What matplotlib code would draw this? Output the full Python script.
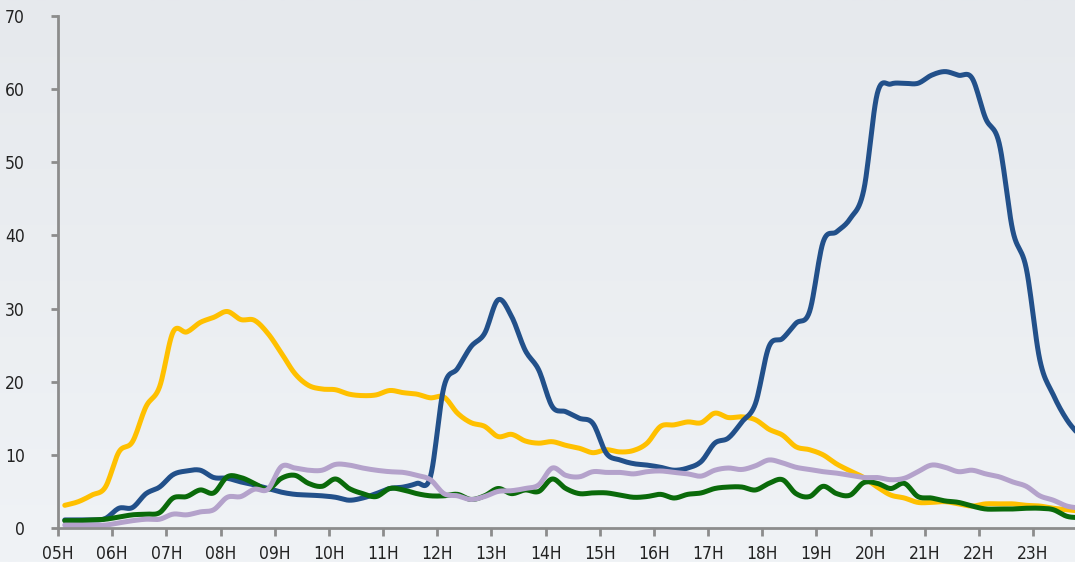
import numpy as np
import matplotlib
matplotlib.use("Agg")
import matplotlib.pyplot as plt
from matplotlib import font_manager

# quarter-hour slots from 05:00 to 23:45
hour_labels = ["05H", "06H", "07H", "08H", "09H", "10H", "11H", "12H", "13H", "14H",
               "15H", "16H", "17H", "18H", "19H", "20H", "21H", "22H", "23H"]

yellow = [3.1, 3.6, 4.5, 5.6, 10.4, 11.8, 16.6, 19.3, 26.8, 26.8,
          28.1, 28.8, 29.6, 28.5, 28.4, 26.6, 23.9, 21.1, 19.5, 19.0,
          18.9, 18.3, 18.1, 18.2, 18.8, 18.5, 18.3, 17.8, 17.9, 15.7,
          14.4, 13.9, 12.5, 12.8, 11.9, 11.6, 11.8, 11.3, 10.9, 10.3,
          10.7, 10.4, 10.6, 11.6, 13.9, 14.1, 14.5, 14.4, 15.7, 15.1,
          15.2, 14.8, 13.5, 12.7, 11.1, 10.7, 10.0, 8.75, 7.8, 6.9,
          5.6, 4.5, 4.1, 3.5, 3.5, 3.6, 3.3, 3.0, 3.3, 3.3,
          3.3, 3.1, 3.0, 2.7, 2.5, 2.3]

blue = [1.1, 1.1, 1.1, 1.3, 2.7, 2.8, 4.7, 5.6, 7.3, 7.8,
        7.9, 6.9, 6.8, 6.3, 5.9, 5.4, 4.9, 4.6, 4.5, 4.4,
        4.2, 3.8, 4.1, 4.7, 5.4, 5.6, 6.1, 7.0, 19.3, 21.8,
        24.8, 26.6, 31.2, 28.9, 24.3, 21.6, 16.6, 15.9, 15.0, 14.3,
        10.2, 9.3, 8.8, 8.6, 8.3, 7.9, 8.2, 9.1, 11.6, 12.3,
        14.5, 17.0, 24.8, 25.9, 28.0, 29.6, 39.1, 40.5, 42.3, 46.2,
        59.4, 60.7, 60.8, 60.8, 61.9, 62.4, 61.9, 61.5, 56.0, 52.6,
        40.7, 35.5, 23.0, 18.2, 14.8, 12.5]

green = [1.0, 1.0, 1.1, 1.2, 1.5, 1.8, 1.9, 2.1, 4.1, 4.3,
         5.2, 4.8, 7.0, 6.9, 6.1, 5.3, 6.8, 7.2, 6.1, 5.7,
         6.7, 5.4, 4.7, 4.3, 5.4, 5.2, 4.7, 4.4, 4.4, 4.6,
         3.9, 4.4, 5.4, 4.7, 5.2, 5.0, 6.7, 5.4, 4.7, 4.8,
         4.8, 4.5, 4.2, 4.3, 4.6, 4.1, 4.6, 4.8, 5.4, 5.6,
         5.6, 5.2, 6.1, 6.6, 4.7, 4.3, 5.7, 4.7, 4.5, 6.2,
         6.1, 5.4, 6.1, 4.3, 4.1, 3.7, 3.5, 3.0, 2.6, 2.6,
         2.6, 2.7, 2.7, 2.5, 1.6, 1.4]

lavender = [0.4, 0.4, 0.4, 0.4, 0.7, 1.0, 1.2, 1.2, 1.9, 1.8,
            2.2, 2.5, 4.2, 4.3, 5.3, 5.3, 8.4, 8.2, 7.9, 7.9,
            8.7, 8.6, 8.2, 7.9, 7.7, 7.6, 7.2, 6.6, 4.7, 4.4,
            3.9, 4.3, 5.0, 5.1, 5.4, 5.9, 8.2, 7.2, 7.0, 7.7,
            7.6, 7.6, 7.4, 7.7, 7.8, 7.6, 7.4, 7.1, 7.9, 8.2,
            8.0, 8.5, 9.3, 8.9, 8.3, 8.0, 7.7, 7.5, 7.2, 6.9,
            6.9, 6.6, 6.8, 7.7, 8.6, 8.3, 7.7, 7.9, 7.4, 7.0,
            6.3, 5.7, 4.4, 3.8, 3.0, 2.7]


def smooth(x, y, steps=12):
    # Catmull-Rom curve through the points, like a "smoothed line" in a spreadsheet
    x = np.asarray(x, float)
    y = np.asarray(y, float)
    t = np.linspace(0, 1, steps, endpoint=False)[:, None]
    res = []
    for p in (x, y):
        p = np.concatenate([[2 * p[0] - p[1]], p, [2 * p[-1] - p[-2]]])
        p0, p1, p2, p3 = p[:-3], p[1:-2], p[2:-1], p[3:]
        seg = 0.5 * ((2 * p1) + (-p0 + p2) * t + (2 * p0 - 5 * p1 + 4 * p2 - p3) * t ** 2
                     + (-p0 + 3 * p1 - 3 * p2 + p3) * t ** 3)
        res.append(np.concatenate([seg.T.ravel(), [p[-2]]]))
    return res


x = np.arange(len(blue)) + 0.5

# narrow face if there is one
names = {f.name for f in font_manager.fontManager.ttflist}
font = [n for n in ["Liberation Sans Narrow", "DejaVu Sans Condensed"] if n in names] + ["DejaVu Sans"]
stretch = "normal" if font[0] != "DejaVu Sans" else "condensed"

fig = plt.figure(figsize=(10.75, 5.62), dpi=100)

# light grey gradient behind everything
bg = fig.add_axes([0, 0, 1, 1], zorder=-10)
grad = np.linspace(0, 1, 256)[:, None]
bg.imshow(grad, aspect="auto", extent=[0, 1, 0, 1],
          cmap=matplotlib.colors.LinearSegmentedColormap.from_list("bg", ["#e6e9ed", "#f0f3f6"]))
bg.axis("off")

ax = fig.add_axes([58 / 1075, 34 / 562, 1 - 58 / 1075, 512 / 562])
ax.patch.set_alpha(0)

series = [(yellow, "#ffc000"), (blue, "#22508a"), (green, "#0a6a0a"), (lavender, "#b4a2cb")]
for vals, col in series:
    sx, sy = smooth(x, vals)
    ax.plot(sx, sy, color=col, lw=3.6, solid_capstyle="round", solid_joinstyle="round")

ax.set_xlim(0, 75.1)
ax.set_ylim(0, 70)
ax.set_xticks(np.arange(0, 73, 4))
ax.set_xticklabels(hour_labels)
ax.set_yticks(np.arange(0, 71, 10))

for side in ["top", "right"]:
    ax.spines[side].set_visible(False)
for side in ["left", "bottom"]:
    ax.spines[side].set_color("#8c8c8c")
    ax.spines[side].set_linewidth(2)

ax.tick_params(axis="y", length=5, width=2, color="#8c8c8c", pad=19, labelsize=12.5, labelcolor="#222222")
ax.tick_params(axis="x", length=6, width=2, color="#8c8c8c", pad=6, labelsize=12.5, labelcolor="#222222")
for lab in ax.get_xticklabels() + ax.get_yticklabels():
    lab.set_family(font)
    lab.set_stretch(stretch)

fig.savefig("out.png", dpi=100)
